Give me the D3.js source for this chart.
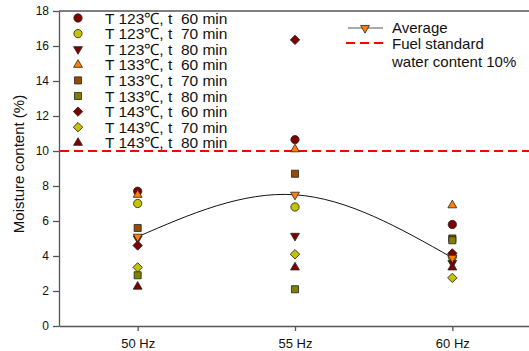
<!DOCTYPE html>
<html lang="en">
<head>
<meta charset="UTF-8">
<title>Moisture content</title>
<script src="https://d3js.org/d3.v7.min.js"></script>
<style>
    body{ margin:0; background:#fff; }
    svg text{ font-family: "Liberation Sans", Arial, sans-serif; fill:#111; }
    .axis path, .axis line{ stroke:#555; stroke-width:1.3; fill:none; }
    .axis text{ font-size:12px; }
    .xaxis text{ font-size:13px; }
</style>
</head>
<body>
<script>
    var w = 529, h = 351;

    // data
    var freqs = [50, 55, 60];
    var freqLabels = ["50 Hz", "55 Hz", "60 Hz"];
    var seriesNames = [
        "T 123\u2103, t \u00a060 min", "T 123\u2103, t \u00a070 min", "T 123\u2103, t \u00a080 min",
        "T 133\u2103, t \u00a060 min", "T 133\u2103, t \u00a070 min", "T 133\u2103, t \u00a080 min",
        "T 143\u2103, t \u00a060 min", "T 143\u2103, t \u00a070 min", "T 143\u2103, t \u00a080 min"
    ];
    var t123_60 = [7.7, 10.65, 5.8];
    var t123_70 = [7.0, 6.8, 3.95];
    var t123_80 = [5.0, 5.15, 3.6];
    var t133_60 = [7.5, 10.1, 6.9];
    var t133_70 = [5.6, 8.7, 5.0];
    var t133_80 = [2.9, 2.1, 4.9];
    var t143_60 = [4.6, 16.35, 4.15];
    var t143_70 = [3.35, 4.1, 2.75];
    var t143_80 = [2.25, 3.35, 3.35];
    var average = [5.1, 7.5, 3.9];
    var standard = 10;
    var yTicks = [0, 2, 4, 6, 8, 10, 12, 14, 16, 18];

    var seriesValues = [t123_60, t123_70, t123_80, t133_60, t133_70, t133_80, t143_60, t143_70, t143_80];

    // marker styles
    var shapes = ["circle", "circle", "down", "up", "square", "square", "diamond", "diamond", "up"];
    var colors = ["#800000", "#c4c400", "#800000", "#ff8000", "#964b00", "#808000", "#800000", "#c4c400", "#800000"];

    var svg = d3.select("body").append("svg")
        .attr("width", w).attr("height", h);

    var x = d3.scaleLinear().domain([47.5, 62.5]).range([59, 531]);
    var y = d3.scaleLinear().domain([0, 18]).range([326, 11]);

    function marker(sel, shape, color){
        var type = d3.symbolCircle, size = 54, rot = 0;
        if (shape === "up"){ type = d3.symbolTriangle; size = 34; }
        if (shape === "down"){ type = d3.symbolTriangle; size = 34; rot = 180; }
        if (shape === "square"){ type = d3.symbolSquare; size = 50; }
        if (shape === "diamond"){ type = d3.symbolSquare; size = 44; rot = 45; }
        sel.append("path")
            .attr("d", d3.symbol().type(type).size(size)())
            .attr("transform", "rotate(" + rot + ")")
            .attr("fill", color)
            .attr("stroke", "#222")
            .attr("stroke-width", 0.8);
    }

    // frame top
    svg.append("line")
        .attr("x1", 59).attr("x2", w).attr("y1", y(18)).attr("y2", y(18))
        .attr("stroke", "#555").attr("stroke-width", 1.3);

    // axes
    var yAxis = d3.axisLeft(y).tickValues(yTicks).tickSize(6).tickSizeOuter(0).tickPadding(4);
    svg.append("g").attr("class", "axis")
        .attr("transform", "translate(59,0)")
        .call(yAxis);

    var xAxis = d3.axisBottom(x).tickValues(freqs)
        .tickFormat(function(d, i){ return freqLabels[i]; })
        .tickSize(5).tickSizeOuter(0).tickPadding(8);
    svg.append("g").attr("class", "axis xaxis")
        .attr("transform", "translate(0,326)")
        .call(xAxis);

    svg.append("text")
        .attr("transform", "translate(24,164) rotate(-90)")
        .attr("text-anchor", "middle")
        .attr("font-size", 15)
        .text("Moisture content (%)");

    // standard line
    svg.append("line")
        .attr("x1", 60).attr("x2", w)
        .attr("y1", y(standard)).attr("y2", y(standard))
        .attr("stroke", "#ff0000").attr("stroke-width", 2)
        .attr("stroke-dasharray", "9,5");

    // average curve
    var line = d3.line()
        .x(function(d, i){ return x(freqs[i]); })
        .y(function(d){ return y(d); })
        .curve(d3.curveNatural);
    svg.append("path")
        .attr("d", line(average))
        .attr("fill", "none")
        .attr("stroke", "#111")
        .attr("stroke-width", 1);

    // points
    seriesValues.forEach(function(vals, s){
        vals.forEach(function(v, i){
            var g = svg.append("g")
                .attr("transform", "translate(" + x(freqs[i]) + "," + y(v) + ")");
            marker(g, shapes[s], colors[s]);
        });
    });
    average.forEach(function(v, i){
        var g = svg.append("g")
            .attr("transform", "translate(" + x(freqs[i]) + "," + y(v) + ")");
        marker(g, "down", "#ff8000");
    });

    // left legend
    seriesNames.forEach(function(name, s){
        var yy = 18 + s * 15.6;
        var g = svg.append("g").attr("transform", "translate(78," + yy + ")");
        marker(g, shapes[s], colors[s]);
        svg.append("text")
            .attr("x", 105).attr("y", yy + 5.5)
            .attr("font-size", 15.5)
            .text(name);
    });

    // right legend
    svg.append("line")
        .attr("x1", 348).attr("x2", 383).attr("y1", 28).attr("y2", 28)
        .attr("stroke", "#555").attr("stroke-width", 1);
    var ga = svg.append("g").attr("transform", "translate(365,28)");
    marker(ga, "down", "#ff8000");
    svg.append("text").attr("x", 392).attr("y", 32.5).attr("font-size", 15).text("Average");
    svg.append("line")
        .attr("x1", 346).attr("x2", 384).attr("y1", 43).attr("y2", 43)
        .attr("stroke", "#ff0000").attr("stroke-width", 2)
        .attr("stroke-dasharray", "9,5");
    svg.append("text").attr("x", 392).attr("y", 49).attr("font-size", 15).text("Fuel standard");
    svg.append("text").attr("x", 392).attr("y", 66.5).attr("font-size", 15).text("water content 10%");
</script>
</body>
</html>
